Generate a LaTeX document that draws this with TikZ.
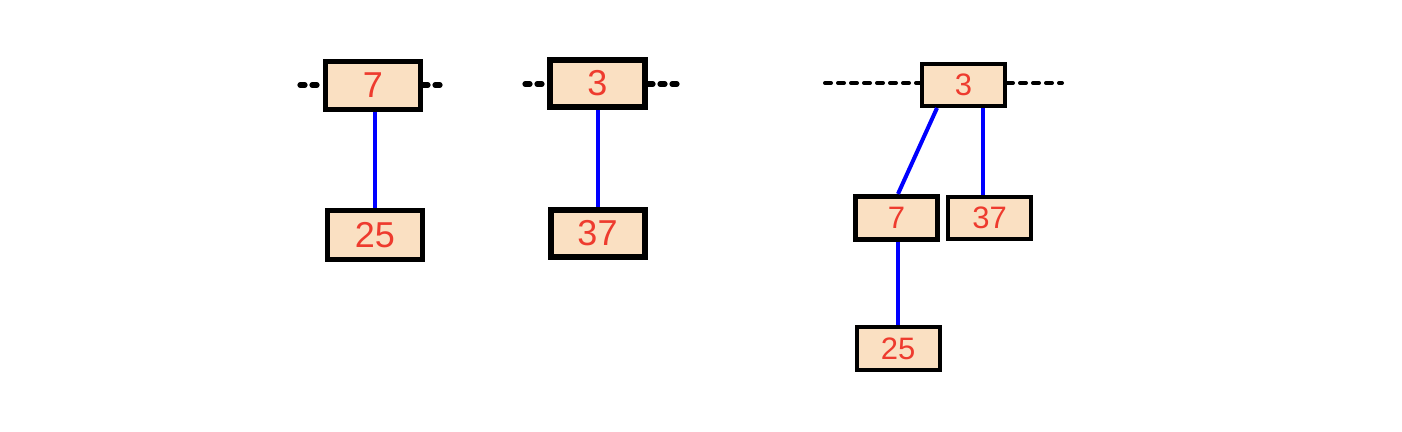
\documentclass[tikz,border=0pt]{standalone}
\usepackage{fontspec}
\setmainfont{Liberation Sans}
\usetikzlibrary{calc}
\definecolor{boxfill}{HTML}{FAE0C2}
\definecolor{numred}{HTML}{EE3B2E}
\definecolor{linkblue}{HTML}{0000FF}
\begin{document}
\begin{tikzpicture}[x=0.5pt,y=-0.5pt,
  keybox/.style={draw=black,fill=boxfill,rectangle,inner sep=0pt,text=numred,font=\fontsize{18}{18}\selectfont},
  smallbox/.style={keybox,font=\fontsize{15.5}{16}\selectfont},
  link/.style={draw=linkblue,line width=2pt},
  leftdots/.style={draw=black,line width=2.6pt,line cap=round,dash pattern=on 2.5pt off 3.5pt},
  rightdash/.style={draw=black,line width=2pt,line cap=round,dash pattern=on 3pt off 3.5pt}]
\useasboundingbox (0,0) rectangle (1402,432);
% left pair
\node[keybox,line width=2.5pt,minimum width=47.5pt,minimum height=24pt] (a7) at (373,85.5) {7};
\node[keybox,line width=2.5pt,minimum width=47.5pt,minimum height=24.5pt] (a25) at (375,235) {25};
% middle pair
\node[keybox,line width=3pt,minimum width=47.5pt,minimum height=23.5pt] (b3) at (597.5,83.5) {3};
\node[keybox,line width=3pt,minimum width=47pt,minimum height=23.5pt] (b37) at (597.5,233.5) {37};
% right tree
\node[smallbox,line width=2pt,minimum width=41.5pt,minimum height=21pt] (c3) at (963.5,85) {3};
\node[smallbox,line width=2.6pt,minimum width=41pt,minimum height=21.5pt] (c7) at (896.5,218) {7};
\node[smallbox,line width=1.8pt,minimum width=41.7pt,minimum height=21.2pt] (c37) at (989.5,218) {37};
\node[smallbox,line width=2pt,minimum width=41.5pt,minimum height=21.5pt] (c25) at (898,348.5) {25};
% dotted continuations
\coordinate (a7l) at (300,85);
\coordinate (a7r) at (446,85);
\coordinate (b3l) at (525,84);
\coordinate (b3r) at (677,84);
\coordinate (c3l) at (825,83);
\coordinate (c3r) at (1062,83);
\draw[leftdots] (a7l) -- (a7.west |- a7l);
\draw[leftdots] (a7.east |- a7r) -- (a7r);
\draw[leftdots] (b3l) -- (b3.west |- b3l);
\draw[leftdots] (b3.east |- b3r) -- (b3r);
\draw[rightdash] (c3l) -- (c3.west |- c3l);
\draw[rightdash] (c3.east |- c3r) -- (c3r);
% links
\draw[link] (a7.south -| a25.north) -- (a25.north);
\draw[link] (b3.south) -- (b37.north);
\draw[link] ($(c3.south)+(-26.5,0)$) -- (c7.north -| c25.north);
\draw[link] ($(c3.south)+(19.5,0)$) -- ($(c37.north)+(-6.5,0)$);
\draw[link] (c7.south -| c25.north) -- (c25.north);
\end{tikzpicture}
\end{document}
